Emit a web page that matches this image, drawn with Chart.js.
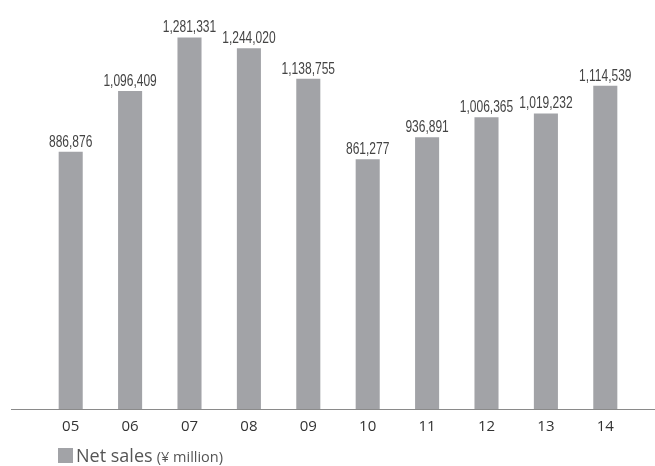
<!DOCTYPE html>
<html>
<head>
<meta charset="utf-8">
<script src="https://cdn.jsdelivr.net/npm/chart.js@4"></script>
<style>
  html, body { margin: 0; padding: 0; background: #fff; }
  #wrap { position: relative; width: 655px; height: 466px; }
  #legend { position: absolute; left: 58px; top: 443px; font-family: "Open Sans", sans-serif; color: #555; white-space: nowrap; }
  #legend .box { display: inline-block; width: 15px; height: 15px; background: #a2a3a7; vertical-align: -1px; margin-right: 3px; }
  #legend .main { font-size: 18px; }
  #legend .unit { font-size: 14.5px; }
</style>
</head>
<body>
<div id="wrap">
  <canvas id="netSales" width="655" height="466"></canvas>
  <div id="legend"><span class="box"></span><span class="main">Net sales</span> <span class="unit">(¥ million)</span></div>
</div>
<script>
var years = ["05", "06", "07", "08", "09", "10", "11", "12", "13", "14"];
var netSales = [886876, 1096409, 1281331, 1244020, 1138755, 861277, 936891, 1006365, 1019232, 1114539];
var barColor = "#a2a3a7";

// value labels above the bars (condensed look)
var valueLabels = {
    id: "valueLabels",
    afterDatasetsDraw: function(chart) {
        var ctx = chart.ctx;
        var meta = chart.getDatasetMeta(0);
        meta.data.forEach(function(bar, i) {
            ctx.save();
            ctx.font = '16px "Liberation Sans", Arial, sans-serif';
            ctx.fillStyle = "#444";
            ctx.textAlign = "center";
            ctx.textBaseline = "alphabetic";
            ctx.translate(bar.x, bar.y - 5);
            ctx.scale(0.75, 1);
            ctx.fillText(netSales[i].toLocaleString("en-US"), 0, 0);
            ctx.restore();
        });
    }
};

// base line running wider than the plot area
var baseLine = {
    id: "baseLine",
    afterDraw: function(chart) {
        var ctx = chart.ctx;
        var y = Math.round(chart.scales.y.getPixelForValue(0)) + 0.5;
        ctx.save();
        ctx.strokeStyle = "#8a8a8a";
        ctx.lineWidth = 1.2;
        ctx.beginPath();
        ctx.moveTo(11, y);
        ctx.lineTo(chart.width, y);
        ctx.stroke();
        ctx.restore();
    }
};

var chartSales = new Chart(document.getElementById("netSales"), {
    type: "bar",
    data: {
        labels: years,
        datasets: [{
            label: "Net sales",
            data: netSales,
            backgroundColor: barColor,
            barPercentage: 0.405,
            categoryPercentage: 1
        }]
    },
    options: {
        responsive: false,
        animation: false,
        layout: { padding: { top: 3, left: 41, right: 20, bottom: 0 } },
        plugins: { legend: { display: false }, tooltip: { enabled: false } },
        scales: {
            x: {
                grid: { display: false, drawTicks: false },
                border: { display: false },
                ticks: {
                    color: "#333",
                    padding: 9,
                    font: { family: "'Open Sans', sans-serif", size: 15 }
                },
                afterFit: function(scale) { scale.height = 57; }
            },
            y: {
                display: false,
                min: 0,
                max: 1400000
            }
        }
    },
    plugins: [valueLabels, baseLine]
});
</script>
</body>
</html>
